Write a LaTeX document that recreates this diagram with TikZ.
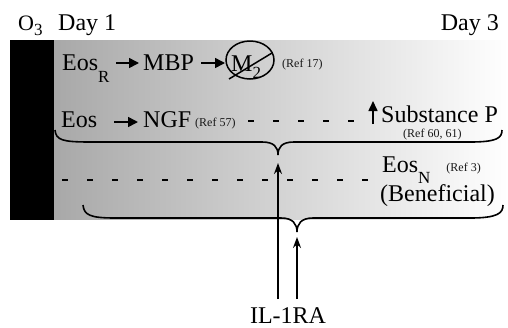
\documentclass[tikz,border=0pt]{standalone}
\usepackage{fontspec}
\setmainfont{Liberation Serif}
\usetikzlibrary{arrows.meta}
\newcommand\lowsub[2][12pt]{\raisebox{-#1}{\fontsize{17}{20}\selectfont #2}}
\begin{document}
\begin{tikzpicture}[x=1pt,y=-1pt,
  txt/.style={font=\fontsize{24}{28}\selectfont, inner sep=0pt, anchor=base west},
  reftxt/.style={font=\fontsize{12}{14}\selectfont, inner sep=0pt, anchor=base west, text=black!90},
  harr/.style={-{Triangle[length=10pt,width=10pt]}, line width=1.6pt},
  varr/.style={-{Stealth[length=11pt,width=8pt]}, line width=1.5pt},
  bracepath/.style={line width=1.6pt},
  dashline/.style={line width=1.8pt, dash pattern=on 6pt off 19pt}]
\useasboundingbox (0,0) rectangle (508,327);
% background
\shade[left color=black!34, right color=white] (54,40) rectangle (508,219);
\fill[black] (10,40) rectangle (54,220);
% header
\node[txt] (o) at (18,30) {{\fontsize{22}{26}\selectfont O}\lowsub[5pt]{3}};
\node[txt] (d1) at (58,30) {Day 1};
\node[txt, anchor=base east] (d3) at (499,30) {Day 3};
% row 1
\node[txt] (eosr) at (62,70) {Eos\lowsub{R}};
\node[txt] (mbp) at (143,70) {MBP};
\coordinate (a1s) at (116,63);
\coordinate (a1e) at (139,63);
\coordinate (a2s) at (201,63);
\coordinate (a2e) at (225,63);
\draw[harr] (a1s) -- (a1e);
\draw[harr] (a2s) -- (a2e);
\coordinate (m2c) at (250,60);
\draw[line width=1.5pt] (m2c) ellipse [x radius=24pt, y radius=19pt];
\node[txt] (m) at (231,71) {M\lowsub[7pt]{2}};
\coordinate (sl1) at (229,79);
\coordinate (sl2) at (272,53);
\draw[line width=1.5pt] (sl1) -- (sl2);
\node[reftxt] (r17) at (282,67) {(Ref 17)};
% row 2
\node[txt] (eos2) at (61,127) {Eos};
\node[txt] (ngf) at (143,127) {NGF};
\coordinate (a3s) at (114,122);
\coordinate (a3e) at (138,122);
\draw[harr] (a3s) -- (a3e);
\node[reftxt] (r57) at (195,126) {(Ref 57)};
\coordinate (dsh1s) at (248,121);
\coordinate (dsh1e) at (356,121);
\draw[dashline] (dsh1s) -- (dsh1e);
\coordinate (upb) at (373,124);
\coordinate (upt) at (373,101);
\draw[harr, -{Triangle[length=10pt,width=9pt]}] (upb) -- (upt);
\node[txt] (subp) at (381,122) {Substance P};
\node[reftxt] (r60) at (403,137) {(Ref 60, 61)};
% brace 1
\coordinate (b1tip) at (278,155);
\draw[bracepath] (55,130) .. controls (56,140) and (62,142) .. (90,142)
  -- (262,142) .. controls (274,142) and (278,147) .. (b1tip)
  .. controls (278,147) and (282,142) .. (294,142)
  -- (470,142) .. controls (497,142) and (502,138) .. (502,130);
% row 3
\coordinate (dsh2s) at (62,180);
\coordinate (dsh2e) at (368,180);
\draw[dashline] (dsh2s) -- (dsh2e);
\node[txt, align=left, font=\fontsize{24}{26}\selectfont] (eosn) at (380,201)
  {\hspace*{2pt}Eos\lowsub[11pt]{N}\hspace{16pt}{\fontsize{12}{14}\selectfont\color{black!90}\raisebox{1pt}{(Ref 3)}}\\(Beneficial)};
% brace 2
\coordinate (b2tip) at (297,232);
\draw[bracepath] (83,205) .. controls (84,215) and (90,218) .. (115,218)
  -- (281,218) .. controls (293,218) and (297,224) .. (b2tip)
  .. controls (297,224) and (301,218) .. (313,218)
  -- (470,218) .. controls (498,218) and (503,213) .. (503,205);
% IL-1RA
\node[txt, anchor=base] (il) at (288,323) {IL-1RA};
\coordinate (il1) at (278,299);
\coordinate (il2) at (297,299);
\coordinate (b1arr) at (278,163);
\coordinate (b2arr) at (297,237);
\draw[varr] (il1) -- (b1arr);
\draw[varr] (il2) -- (b2arr);
\end{tikzpicture}
\end{document}
